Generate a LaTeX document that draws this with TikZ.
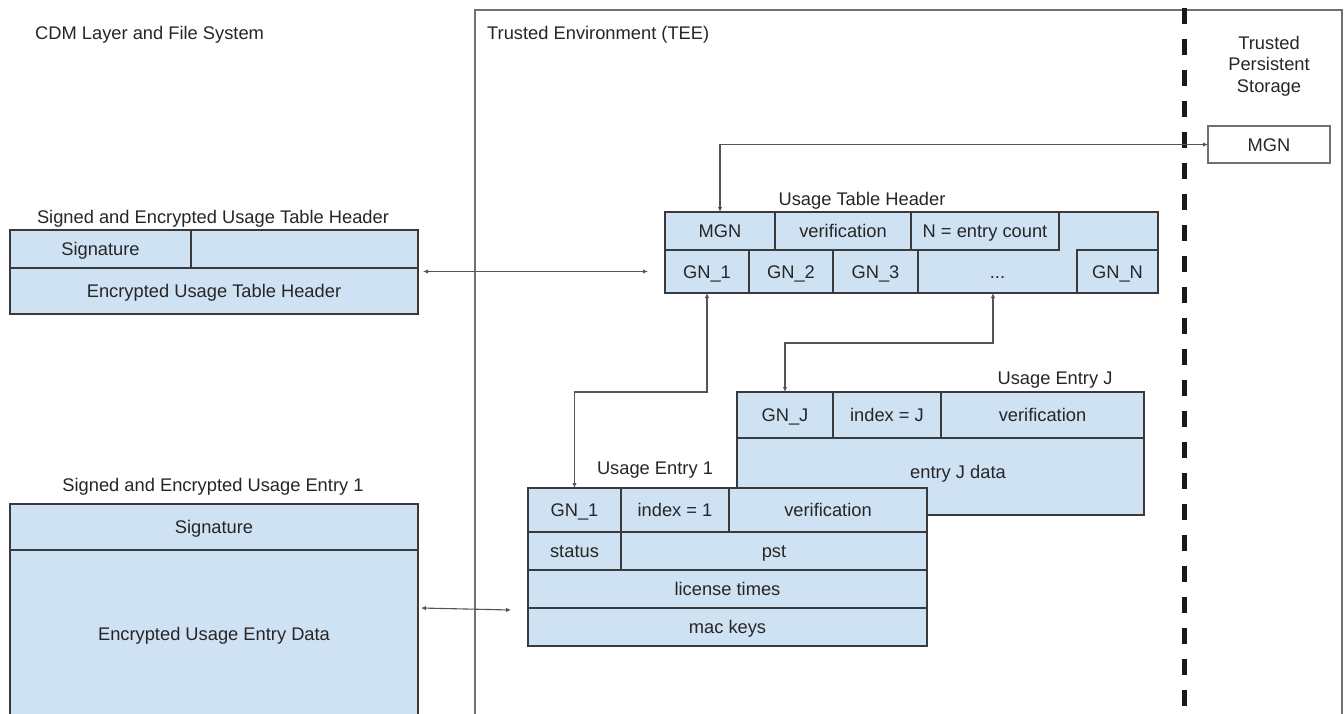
\documentclass[tikz,border=0pt]{standalone}
\usepackage{fontspec}
\setmainfont{Liberation Sans}
\usetikzlibrary{arrows.meta,calc}
\definecolor{cellblue}{HTML}{CFE2F3}
\definecolor{edgegray}{HTML}{3A3A3A}
\definecolor{wiregray}{HTML}{555555}
\definecolor{txtgray}{HTML}{262626}
\definecolor{teegray}{HTML}{707070}
\newcommand{\cellbox}[7][cell]{%
  \node[#1, minimum width={#5-#3}, minimum height={#6-#4}] (#2) at ({(#3+#5)/2},{(#4+#6)/2}) {#7};}
\begin{document}
\begin{tikzpicture}[x=1pt,y=-1pt,
  font=\fontsize{18.3}{21.5}\selectfont,
  cell/.style={draw=edgegray, fill=cellblue, line width=1.6pt, inner sep=0pt, outer sep=0pt, text=txtgray, text height=16pt, text depth=3pt},
  plain/.style={inner sep=0pt, outer sep=0pt, text=txtgray, text height=16pt, text depth=3pt},
  teebox/.style={draw=teegray, line width=1.3pt, inner sep=0pt, outer sep=0pt},
  storebox/.style={draw=teegray, fill=white, line width=1.3pt, inner sep=0pt, outer sep=0pt, text=txtgray, text height=16pt, text depth=3pt},
  lbl/.style={inner sep=0pt, text=txtgray, text height=16pt, text depth=3pt},
  mlbl/.style={inner sep=0pt, text=txtgray},
  conn/.style={draw=wiregray, line width=1.1pt, <->, >={Latex[length=5pt,width=4.5pt]}},
  divider/.style={draw=black!90, line width=5pt, dash pattern=on 16pt off 15pt}]
\useasboundingbox (0,0) rectangle (1344,713);
\clip (0,0) rectangle (1344,713);
\fill[white] (0,0) rectangle (1344,713);

% Trusted environment
\cellbox[teebox]{tee}{475}{10}{1342}{760}{}
\draw[divider] (1184,8) -- (1184,713);
\node[lbl, anchor=west] (cdmlbl) at (35,33) {CDM Layer and File System};
\node[lbl, anchor=west] (teelbl) at (487,33) {Trusted Environment (TEE)};
\node[mlbl, align=center] (tpslbl) at (1269,66) {Trusted\\Persistent\\Storage};
\cellbox[storebox]{store}{1208}{126}{1330}{163}{MGN}

% Signed and encrypted usage table header
\node[lbl] (sthlbl) at (213,217) {Signed and Encrypted Usage Table Header};
\cellbox{sSig}{10}{230}{191}{268}{Signature}
\cellbox{sBlank}{191}{230}{418}{268}{}
\cellbox{sEnc}{10}{268}{418}{314}{Encrypted Usage Table Header}

% Signed and encrypted usage entry 1
\node[lbl] (selbl) at (213,485) {Signed and Encrypted Usage Entry 1};
\cellbox{eSig}{10}{504}{418}{550}{Signature}
\cellbox{eData}{10}{550}{418}{717}{Encrypted Usage Entry Data}

% Usage table header
\node[lbl] (uthlbl) at (862,199) {Usage Table Header};
\cellbox{hdr}{665}{212}{1158}{293}{}
\cellbox{hMGN}{665}{212}{775}{250}{MGN}
\cellbox{hVer}{775}{212}{911}{250}{verification}
\cellbox{hCnt}{911}{212}{1059}{250}{N = entry count}
\cellbox{hGN1}{665}{250}{749}{293}{GN\_1}
\cellbox{hGN2}{749}{250}{833}{293}{GN\_2}
\cellbox{hGN3}{833}{250}{918}{293}{GN\_3}
\cellbox[plain]{hDots}{918}{250}{1077}{293}{...}
\cellbox{hGNN}{1077}{250}{1158}{293}{GN\_N}
\draw[edgegray, line width=1.6pt] (hdr.north west) rectangle (hdr.south east);

% Usage entry J
\node[lbl] (ejlbl) at (1055,378) {Usage Entry J};
\cellbox{eJ}{737}{392}{1144}{515}{}
\cellbox{eJGN}{737}{392}{833}{438}{GN\_J}
\cellbox{eJIdx}{833}{392}{941}{438}{index = J}
\cellbox{eJVer}{941}{392}{1144}{438}{verification}
\node[lbl] (eJData) at (958,472) {entry J data};

% Usage entry 1
\node[lbl] (e1lbl) at (655,468) {Usage Entry 1};
\cellbox{e1}{528}{488}{927}{646}{}
\cellbox{e1GN}{528}{488}{621}{532}{GN\_1}
\cellbox{e1Idx}{621}{488}{729}{532}{index = 1}
\cellbox{e1Ver}{729}{488}{927}{532}{verification}
\cellbox{e1St}{528}{532}{621}{570}{status}
\cellbox{e1Pst}{621}{532}{927}{570}{pst}
\cellbox{e1Lic}{528}{570}{927}{608}{license times}
\cellbox{e1Mac}{528}{608}{927}{646}{mac keys}

% Connectors
\draw[conn] (hMGN.north) |- (store.west);
\draw[conn, shorten <=17pt, shorten >=5pt] (hGN1.west) -- (hGN1.west -| sEnc.east);
\draw[conn] (hGN1.south) -- (hGN1.south |- eJ.north) -| (e1GN.north);
\coordinate (djturn) at (993,343);
\draw[conn] (eJGN.north) |- (djturn) -- (djturn |- hDots.south);
\coordinate (seOut) at (421,608);
\coordinate (e1In) at (511,610);
\draw[conn] (seOut) -- (e1In);
\end{tikzpicture}
\end{document}
